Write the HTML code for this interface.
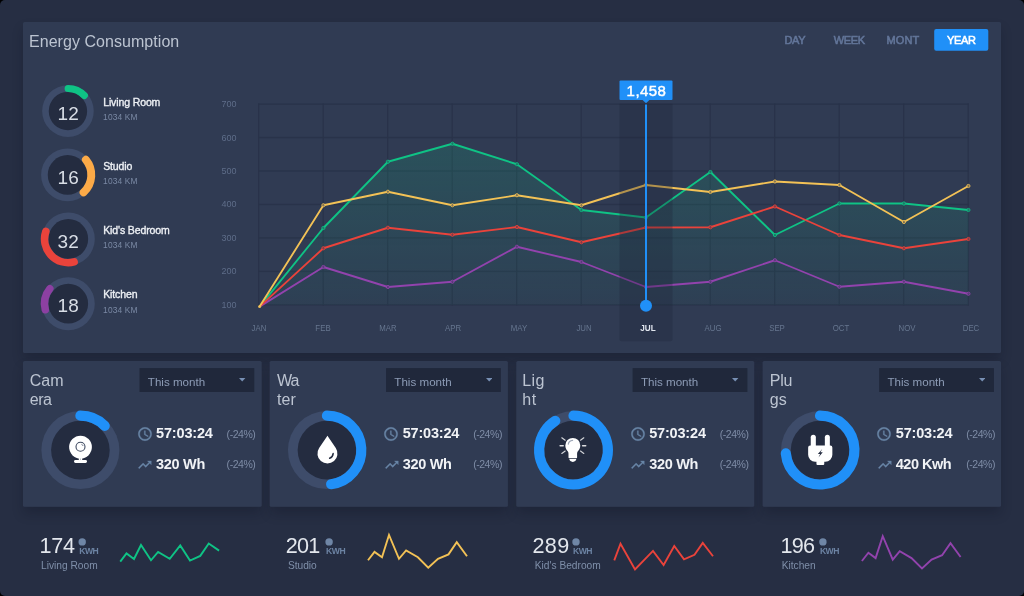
<!DOCTYPE html><html><head><meta charset="utf-8"><title>Energy Consumption</title><style>

html,body{margin:0;padding:0;background:#000;}
body{width:1024px;height:596px;overflow:hidden;font-family:"Liberation Sans", sans-serif;}
#root{position:relative;width:1024px;height:596px;background:#262e43;border-radius:5px;overflow:hidden;}
.abs{position:absolute;}
.t{white-space:nowrap;line-height:1.2;}
#txt{position:absolute;left:0;top:0;width:1024px;height:596px;will-change:transform;}
.shadow{box-shadow:0 7px 12px -1px rgba(10,14,28,0.27);}
.sel{background:#20283b;}

</style></head><body><div id="root">
<div class="abs shadow" style="left:23px;top:22px;width:978px;height:331px;border-radius:2px"></div>
<div class="abs shadow" style="left:23px;top:361.1px;width:238.65px;height:145.6px;border-radius:2px"></div>
<div class="abs shadow" style="left:269.65px;top:361.1px;width:238.25px;height:145.6px;border-radius:2px"></div>
<div class="abs shadow" style="left:516.3px;top:361.1px;width:237.95px;height:145.6px;border-radius:2px"></div>
<div class="abs shadow" style="left:762.6px;top:361.1px;width:238.4px;height:145.6px;border-radius:2px"></div>
<svg class="abs" style="left:0;top:0" width="1024" height="596" viewBox="0 0 1024 596"><rect x="23" y="22" width="978" height="331" rx="1.5" fill="#303b53"/><rect x="23" y="361.1" width="238.65" height="145.6" rx="1.5" fill="#303b53"/><rect x="269.65" y="361.1" width="238.25" height="145.6" rx="1.5" fill="#303b53"/><rect x="516.3" y="361.1" width="237.95" height="145.6" rx="1.5" fill="#303b53"/><rect x="762.6" y="361.1" width="238.4" height="145.6" rx="1.5" fill="#303b53"/><rect x="139.5" y="368.1" width="114.8" height="23.9" fill="#20283b"/><rect x="386.05" y="368.1" width="114.8" height="23.9" fill="#20283b"/><rect x="632.6" y="368.1" width="114.8" height="23.9" fill="#20283b"/><rect x="879.15" y="368.1" width="114.8" height="23.9" fill="#20283b"/><rect x="934.2" y="28.9" width="54.1" height="21.9" rx="2" fill="#2090f8"/></svg>
<div id="txt">
<svg class="abs" style="left:0;top:0" width="1024" height="596" viewBox="0 0 1024 596"><defs><linearGradient id="gf" x1="0" y1="0" x2="0" y2="1"><stop offset="0" stop-color="#0fc385" stop-opacity="0.165"/><stop offset="1" stop-color="#0fc385" stop-opacity="0.035"/></linearGradient></defs><rect x="258.1" y="103.45" width="710.8" height="1.3" fill="#29334a"/><rect x="258.1" y="136.91" width="710.8" height="1.3" fill="#29334a"/><rect x="258.1" y="170.37" width="710.8" height="1.3" fill="#29334a"/><rect x="258.1" y="203.83" width="710.8" height="1.3" fill="#29334a"/><rect x="258.1" y="237.29" width="710.8" height="1.3" fill="#29334a"/><rect x="258.1" y="270.75" width="710.8" height="1.3" fill="#29334a"/><rect x="258.1" y="304.21" width="710.8" height="1.3" fill="#29334a"/><rect x="258.05" y="103.5" width="1.3" height="202" fill="#29334a"/><rect x="322.55" y="103.5" width="1.3" height="202" fill="#29334a"/><rect x="387.05" y="103.5" width="1.3" height="202" fill="#29334a"/><rect x="451.55" y="103.5" width="1.3" height="202" fill="#29334a"/><rect x="516.05" y="103.5" width="1.3" height="202" fill="#29334a"/><rect x="580.55" y="103.5" width="1.3" height="202" fill="#29334a"/><rect x="645.05" y="103.5" width="1.3" height="202" fill="#29334a"/><rect x="709.55" y="103.5" width="1.3" height="202" fill="#29334a"/><rect x="774.05" y="103.5" width="1.3" height="202" fill="#29334a"/><rect x="838.55" y="103.5" width="1.3" height="202" fill="#29334a"/><rect x="903.05" y="103.5" width="1.3" height="202" fill="#29334a"/><rect x="967.55" y="103.5" width="1.3" height="202" fill="#29334a"/><polygon points="259.60,306.60 323.40,228.00 387.90,161.75 452.40,143.75 516.90,164.25 581.40,210.00 645.90,217.50 710.40,172.00 774.90,235.00 839.40,203.50 903.90,203.50 968.40,210.00 968.40,305 259.60,305" fill="url(#gf)"/><polyline points="259.60,306.60 323.40,267.00 387.90,287.00 452.40,281.75 516.90,246.75 581.40,262.00 645.90,287.00 710.40,281.75 774.90,260.25 839.40,286.75 903.90,281.75 968.40,293.75" fill="none" stroke="#9243ad" stroke-width="1.85" stroke-linejoin="round" stroke-linecap="round"/><circle cx="323.40" cy="267.00" r="1.6" fill="#303b53" fill-opacity="0.55" stroke="#9243ad" stroke-width="0.9"/><circle cx="387.90" cy="287.00" r="1.6" fill="#303b53" fill-opacity="0.55" stroke="#9243ad" stroke-width="0.9"/><circle cx="452.40" cy="281.75" r="1.6" fill="#303b53" fill-opacity="0.55" stroke="#9243ad" stroke-width="0.9"/><circle cx="516.90" cy="246.75" r="1.6" fill="#303b53" fill-opacity="0.55" stroke="#9243ad" stroke-width="0.9"/><circle cx="581.40" cy="262.00" r="1.6" fill="#303b53" fill-opacity="0.55" stroke="#9243ad" stroke-width="0.9"/><circle cx="645.90" cy="287.00" r="1.6" fill="#303b53" fill-opacity="0.55" stroke="#9243ad" stroke-width="0.9"/><circle cx="710.40" cy="281.75" r="1.6" fill="#303b53" fill-opacity="0.55" stroke="#9243ad" stroke-width="0.9"/><circle cx="774.90" cy="260.25" r="1.6" fill="#303b53" fill-opacity="0.55" stroke="#9243ad" stroke-width="0.9"/><circle cx="839.40" cy="286.75" r="1.6" fill="#303b53" fill-opacity="0.55" stroke="#9243ad" stroke-width="0.9"/><circle cx="903.90" cy="281.75" r="1.6" fill="#303b53" fill-opacity="0.55" stroke="#9243ad" stroke-width="0.9"/><circle cx="968.40" cy="293.75" r="1.6" fill="#303b53" fill-opacity="0.55" stroke="#9243ad" stroke-width="0.9"/><polyline points="259.60,306.60 323.40,228.00 387.90,161.75 452.40,143.75 516.90,164.25 581.40,210.00 645.90,217.50 710.40,172.00 774.90,235.00 839.40,203.50 903.90,203.50 968.40,210.00" fill="none" stroke="#0fc385" stroke-width="1.85" stroke-linejoin="round" stroke-linecap="round"/><circle cx="323.40" cy="228.00" r="1.6" fill="#303b53" fill-opacity="0.55" stroke="#0fc385" stroke-width="0.9"/><circle cx="387.90" cy="161.75" r="1.6" fill="#303b53" fill-opacity="0.55" stroke="#0fc385" stroke-width="0.9"/><circle cx="452.40" cy="143.75" r="1.6" fill="#303b53" fill-opacity="0.55" stroke="#0fc385" stroke-width="0.9"/><circle cx="516.90" cy="164.25" r="1.6" fill="#303b53" fill-opacity="0.55" stroke="#0fc385" stroke-width="0.9"/><circle cx="581.40" cy="210.00" r="1.6" fill="#303b53" fill-opacity="0.55" stroke="#0fc385" stroke-width="0.9"/><circle cx="645.90" cy="217.50" r="1.6" fill="#303b53" fill-opacity="0.55" stroke="#0fc385" stroke-width="0.9"/><circle cx="710.40" cy="172.00" r="1.6" fill="#303b53" fill-opacity="0.55" stroke="#0fc385" stroke-width="0.9"/><circle cx="774.90" cy="235.00" r="1.6" fill="#303b53" fill-opacity="0.55" stroke="#0fc385" stroke-width="0.9"/><circle cx="839.40" cy="203.50" r="1.6" fill="#303b53" fill-opacity="0.55" stroke="#0fc385" stroke-width="0.9"/><circle cx="903.90" cy="203.50" r="1.6" fill="#303b53" fill-opacity="0.55" stroke="#0fc385" stroke-width="0.9"/><circle cx="968.40" cy="210.00" r="1.6" fill="#303b53" fill-opacity="0.55" stroke="#0fc385" stroke-width="0.9"/><polyline points="259.60,306.60 323.40,248.25 387.90,227.75 452.40,234.75 516.90,227.00 581.40,242.25 645.90,227.50 710.40,227.25 774.90,206.50 839.40,235.00 903.90,248.25 968.40,239.00" fill="none" stroke="#ea433b" stroke-width="1.85" stroke-linejoin="round" stroke-linecap="round"/><circle cx="323.40" cy="248.25" r="1.6" fill="#303b53" fill-opacity="0.55" stroke="#ea433b" stroke-width="0.9"/><circle cx="387.90" cy="227.75" r="1.6" fill="#303b53" fill-opacity="0.55" stroke="#ea433b" stroke-width="0.9"/><circle cx="452.40" cy="234.75" r="1.6" fill="#303b53" fill-opacity="0.55" stroke="#ea433b" stroke-width="0.9"/><circle cx="516.90" cy="227.00" r="1.6" fill="#303b53" fill-opacity="0.55" stroke="#ea433b" stroke-width="0.9"/><circle cx="581.40" cy="242.25" r="1.6" fill="#303b53" fill-opacity="0.55" stroke="#ea433b" stroke-width="0.9"/><circle cx="645.90" cy="227.50" r="1.6" fill="#303b53" fill-opacity="0.55" stroke="#ea433b" stroke-width="0.9"/><circle cx="710.40" cy="227.25" r="1.6" fill="#303b53" fill-opacity="0.55" stroke="#ea433b" stroke-width="0.9"/><circle cx="774.90" cy="206.50" r="1.6" fill="#303b53" fill-opacity="0.55" stroke="#ea433b" stroke-width="0.9"/><circle cx="839.40" cy="235.00" r="1.6" fill="#303b53" fill-opacity="0.55" stroke="#ea433b" stroke-width="0.9"/><circle cx="903.90" cy="248.25" r="1.6" fill="#303b53" fill-opacity="0.55" stroke="#ea433b" stroke-width="0.9"/><circle cx="968.40" cy="239.00" r="1.6" fill="#303b53" fill-opacity="0.55" stroke="#ea433b" stroke-width="0.9"/><polyline points="259.60,306.60 323.40,205.25 387.90,191.75 452.40,205.25 516.90,195.25 581.40,205.25 645.90,185.00 710.40,192.00 774.90,181.50 839.40,185.00 903.90,222.00 968.40,186.00" fill="none" stroke="#f3c256" stroke-width="1.85" stroke-linejoin="round" stroke-linecap="round"/><circle cx="323.40" cy="205.25" r="1.6" fill="#303b53" fill-opacity="0.55" stroke="#f3c256" stroke-width="0.9"/><circle cx="387.90" cy="191.75" r="1.6" fill="#303b53" fill-opacity="0.55" stroke="#f3c256" stroke-width="0.9"/><circle cx="452.40" cy="205.25" r="1.6" fill="#303b53" fill-opacity="0.55" stroke="#f3c256" stroke-width="0.9"/><circle cx="516.90" cy="195.25" r="1.6" fill="#303b53" fill-opacity="0.55" stroke="#f3c256" stroke-width="0.9"/><circle cx="581.40" cy="205.25" r="1.6" fill="#303b53" fill-opacity="0.55" stroke="#f3c256" stroke-width="0.9"/><circle cx="645.90" cy="185.00" r="1.6" fill="#303b53" fill-opacity="0.55" stroke="#f3c256" stroke-width="0.9"/><circle cx="710.40" cy="192.00" r="1.6" fill="#303b53" fill-opacity="0.55" stroke="#f3c256" stroke-width="0.9"/><circle cx="774.90" cy="181.50" r="1.6" fill="#303b53" fill-opacity="0.55" stroke="#f3c256" stroke-width="0.9"/><circle cx="839.40" cy="185.00" r="1.6" fill="#303b53" fill-opacity="0.55" stroke="#f3c256" stroke-width="0.9"/><circle cx="903.90" cy="222.00" r="1.6" fill="#303b53" fill-opacity="0.55" stroke="#f3c256" stroke-width="0.9"/><circle cx="968.40" cy="186.00" r="1.6" fill="#303b53" fill-opacity="0.55" stroke="#f3c256" stroke-width="0.9"/><circle cx="259.6" cy="306.6" r="1.5" fill="#f3c256" fill-opacity="0.8"/><path d="M619.5 103.8h53v235.4a2 2 0 0 1 -2 2h-49a2 2 0 0 1 -2 -2z" fill="#1e2337" fill-opacity="0.3"/><rect x="645" y="104.5" width="2" height="201.5" fill="#2090f8"/><circle cx="646" cy="305.8" r="6" fill="#2090f8"/><rect x="619.5" y="80.5" width="53" height="19.5" rx="1" fill="#2090f8"/><path d="M642.6 100L649.4 100L646 103.2Z" fill="#2090f8"/><circle cx="67.95" cy="111.1" r="25.8" fill="#3e4c6a"/><circle cx="67.95" cy="111.1" r="19.2" fill="#242c40"/><path d="M68.15 88.45A22.65 22.65 0 0 1 84.38 95.51" fill="none" stroke="#0fc385" stroke-width="7.1" stroke-linecap="round"/><circle cx="67.55" cy="174.9" r="26.45" fill="#3e4c6a"/><circle cx="67.55" cy="174.9" r="19.8" fill="#242c40"/><path d="M85.88 159.79A23.75 23.75 0 0 1 83.60 192.41" fill="none" stroke="#fcaa47" stroke-width="7.9" stroke-linecap="round"/><circle cx="68.3" cy="238.95" r="26.5" fill="#3e4c6a"/><circle cx="68.3" cy="238.95" r="19.85" fill="#242c40"/><path d="M74.11 261.93A23.7 23.7 0 0 1 45.82 231.43" fill="none" stroke="#ea433b" stroke-width="7.6" stroke-linecap="round"/><circle cx="68.25" cy="303.7" r="26.55" fill="#3e4c6a"/><circle cx="68.25" cy="303.7" r="19.85" fill="#242c40"/><path d="M45.29 309.77A23.75 23.75 0 0 1 49.79 288.75" fill="none" stroke="#8c40a2" stroke-width="7.5" stroke-linecap="round"/></svg>
<div class="abs t " style="left:29.0px;top:31.5px;font-size:16px;color:#bcc4d1;font-weight:400;letter-spacing:0.05px">Energy Consumption</div>
<div class="abs t " style="left:784.4px;top:33.5px;font-size:11px;color:#63769a;font-weight:400;-webkit-text-stroke:0.55px #63769a;letter-spacing:-0.25px">DAY</div>
<div class="abs t " style="left:833.7px;top:33.5px;font-size:11px;color:#63769a;font-weight:400;-webkit-text-stroke:0.55px #63769a;letter-spacing:-0.3px">WEEK</div>
<div class="abs t " style="left:886.5px;top:33.5px;font-size:11px;color:#63769a;font-weight:400;-webkit-text-stroke:0.55px #63769a;letter-spacing:0.1px">MONT</div>
<div class="abs t " style="left:947px;top:33.5px;font-size:11px;color:#ffffff;font-weight:400;-webkit-text-stroke:0.55px #fff;letter-spacing:-0.3px">YEAR</div>
<div class="abs t" style="left:18.200000000000003px;top:102.5px;width:100px;text-align:center;font-size:19px;color:#d9dee6;font-weight:400;">12</div>
<div class="abs t " style="left:103.2px;top:95.8px;font-size:10.5px;color:#eef1f5;font-weight:400;letter-spacing:-0.12px;-webkit-text-stroke:0.35px #eef1f5">Living Room</div>
<div class="abs t " style="left:103.1px;top:112.4px;font-size:8.4px;color:#7a89a4;font-weight:400;letter-spacing:0.15px">1034 KM</div>
<div class="abs t" style="left:18.200000000000003px;top:166.5px;width:100px;text-align:center;font-size:19px;color:#d9dee6;font-weight:400;">16</div>
<div class="abs t " style="left:103.2px;top:159.8px;font-size:10.5px;color:#eef1f5;font-weight:400;letter-spacing:-0.12px;-webkit-text-stroke:0.35px #eef1f5">Studio</div>
<div class="abs t " style="left:103.1px;top:176.4px;font-size:8.4px;color:#7a89a4;font-weight:400;letter-spacing:0.15px">1034 KM</div>
<div class="abs t" style="left:18.200000000000003px;top:230.5px;width:100px;text-align:center;font-size:19px;color:#d9dee6;font-weight:400;">32</div>
<div class="abs t " style="left:103.2px;top:223.8px;font-size:10.5px;color:#eef1f5;font-weight:400;letter-spacing:-0.12px;-webkit-text-stroke:0.35px #eef1f5">Kid's Bedroom</div>
<div class="abs t " style="left:103.1px;top:240.4px;font-size:8.4px;color:#7a89a4;font-weight:400;letter-spacing:0.15px">1034 KM</div>
<div class="abs t" style="left:18.200000000000003px;top:295.0px;width:100px;text-align:center;font-size:19px;color:#d9dee6;font-weight:400;">18</div>
<div class="abs t " style="left:103.2px;top:288.3px;font-size:10.5px;color:#eef1f5;font-weight:400;letter-spacing:-0.12px;-webkit-text-stroke:0.35px #eef1f5">Kitchen</div>
<div class="abs t " style="left:103.1px;top:304.9px;font-size:8.4px;color:#7a89a4;font-weight:400;letter-spacing:0.15px">1034 KM</div>
<div class="abs t" style="left:200px;width:36.5px;text-align:right;top:99.10px;font-size:9px;color:#5e6d89">700</div>
<div class="abs t" style="left:200px;width:36.5px;text-align:right;top:132.56px;font-size:9px;color:#5e6d89">600</div>
<div class="abs t" style="left:200px;width:36.5px;text-align:right;top:166.02px;font-size:9px;color:#5e6d89">500</div>
<div class="abs t" style="left:200px;width:36.5px;text-align:right;top:199.48px;font-size:9px;color:#5e6d89">400</div>
<div class="abs t" style="left:200px;width:36.5px;text-align:right;top:232.94px;font-size:9px;color:#5e6d89">300</div>
<div class="abs t" style="left:200px;width:36.5px;text-align:right;top:266.40px;font-size:9px;color:#5e6d89">200</div>
<div class="abs t" style="left:200px;width:36.5px;text-align:right;top:299.86px;font-size:9px;color:#5e6d89">100</div>
<div class="abs t" style="left:209.10000000000002px;top:323.1px;width:100px;text-align:center;font-size:9px;color:#66768f;font-weight:400;transform:scaleX(0.87)">JAN</div>
<div class="abs t" style="left:272.5px;top:323.1px;width:100px;text-align:center;font-size:9px;color:#66768f;font-weight:400;transform:scaleX(0.87)">FEB</div>
<div class="abs t" style="left:337.75px;top:323.1px;width:100px;text-align:center;font-size:9px;color:#66768f;font-weight:400;transform:scaleX(0.87)">MAR</div>
<div class="abs t" style="left:402.5px;top:323.1px;width:100px;text-align:center;font-size:9px;color:#66768f;font-weight:400;transform:scaleX(0.87)">APR</div>
<div class="abs t" style="left:468.5px;top:323.1px;width:100px;text-align:center;font-size:9px;color:#66768f;font-weight:400;transform:scaleX(0.87)">MAY</div>
<div class="abs t" style="left:534.1px;top:323.1px;width:100px;text-align:center;font-size:9px;color:#66768f;font-weight:400;transform:scaleX(0.87)">JUN</div>
<div class="abs t" style="left:597.9px;top:323.1px;width:100px;text-align:center;font-size:9px;color:#e2e7ef;font-weight:700;transform:scaleX(0.9)">JUL</div>
<div class="abs t" style="left:662.9px;top:323.1px;width:100px;text-align:center;font-size:9px;color:#66768f;font-weight:400;transform:scaleX(0.87)">AUG</div>
<div class="abs t" style="left:727.25px;top:323.1px;width:100px;text-align:center;font-size:9px;color:#66768f;font-weight:400;transform:scaleX(0.87)">SEP</div>
<div class="abs t" style="left:791.1px;top:323.1px;width:100px;text-align:center;font-size:9px;color:#66768f;font-weight:400;transform:scaleX(0.87)">OCT</div>
<div class="abs t" style="left:856.5px;top:323.1px;width:100px;text-align:center;font-size:9px;color:#66768f;font-weight:400;transform:scaleX(0.87)">NOV</div>
<div class="abs t" style="left:921.1px;top:323.1px;width:100px;text-align:center;font-size:9px;color:#66768f;font-weight:400;transform:scaleX(0.87)">DEC</div>
<div class="abs t" style="left:596.5px;top:81.6px;width:100px;text-align:center;font-size:15px;color:#ffffff;font-weight:400;letter-spacing:0.45px;-webkit-text-stroke:0.45px #fff">1,458</div>
<svg class="abs" style="left:0;top:0" width="1024" height="596" viewBox="0 0 1024 596"><circle cx="80.4" cy="450.1" r="39" fill="#3e4c6a"/><circle cx="80.4" cy="450.1" r="29.3" fill="#242c40"/><path d="M80.40 415.70A34.4 34.4 0 0 1 104.72 425.78" fill="none" stroke="#2090f8" stroke-width="10.2" stroke-linecap="round"/><circle cx="80.5" cy="447.1" r="11.4" fill="#fff"/><circle cx="80.5" cy="446.8" r="4.5" fill="none" stroke="#3f4a61" stroke-width="1.1"/><path d="M81.4 444.3a2.2 2.2 0 0 1 1.7 1.7" fill="none" stroke="#5d677c" stroke-width="0.8"/><rect x="78.8" y="458" width="3.4" height="2.6" fill="#fff"/><rect x="80.25" y="458.5" width="0.5" height="1.7" fill="#7c8598"/><rect x="74.0" y="460.1" width="13" height="2.9" rx="1.45" fill="#fff"/><circle cx="326.95" cy="450.1" r="39" fill="#3e4c6a"/><circle cx="326.95" cy="450.1" r="29.3" fill="#242c40"/><path d="M326.95 415.70A34.4 34.4 0 0 1 331.14 484.24" fill="none" stroke="#2090f8" stroke-width="10.2" stroke-linecap="round"/><path d="M326.95 436.4Q327.45 435.3 327.95 436.4L335.77 448.04A10.0 10.0 0 1 1 319.13 448.04Z" fill="#fff"/><path d="M333.15 453.6C332.95 455.9 331.55 457.5 329.65 458.2" fill="none" stroke="#242c40" stroke-width="1.5" stroke-linecap="round"/><circle cx="573.5" cy="450.1" r="39" fill="#3e4c6a"/><circle cx="573.5" cy="450.1" r="29.3" fill="#242c40"/><path d="M573.50 415.70A34.4 34.4 0 1 1 555.27 420.93" fill="none" stroke="#2090f8" stroke-width="10.2" stroke-linecap="round"/><path d="M572.8 437.9a7.5 7.5 0 0 1 7.5 7.5c0 3 -1.6 4.6 -2.6 6.2c-0.7 1.1 -0.6 2.2 -0.6 3.4v2.4a0.8 0.8 0 0 1 -0.8 0.8h-7a0.8 0.8 0 0 1 -0.8 -0.8v-2.4c0 -1.2 0.1 -2.3 -0.6 -3.4c-1 -1.6 -2.6 -3.2 -2.6 -6.2a7.5 7.5 0 0 1 7.5 -7.5z" fill="#fff"/><path d="M569.3 459.1h7c0 1.6 -1.6 2.8 -3.5 2.8s-3.5 -1.2 -3.5 -2.8z" fill="#fff"/><path d="M568.3 444.1c0.3 -2 1.9 -3.5 4.3 -3.7" fill="none" stroke="#9ea7b8" stroke-width="1.2" stroke-linecap="round"/><path d="M560.0999999999999 445.8h3.1" stroke="#fff" stroke-linecap="round" stroke-width="1.5" stroke-opacity="0.85"/><path d="M582.5999999999999 445.8h3.1" stroke="#fff" stroke-linecap="round" stroke-width="1.5" stroke-opacity="0.85"/><path d="M561.8 437.8l3.4 2.4" stroke="#fff" stroke-linecap="round" stroke-width="1.2" stroke-opacity="0.8"/><path d="M561.8 453.4l3.4 -2.3" stroke="#fff" stroke-linecap="round" stroke-width="1.2" stroke-opacity="0.8"/><path d="M583.8 437.8l-3.3 2.4" stroke="#fff" stroke-linecap="round" stroke-width="1.2" stroke-opacity="0.8"/><path d="M583.8 453.4l-3.3 -2.3" stroke="#fff" stroke-linecap="round" stroke-width="1.2" stroke-opacity="0.8"/><circle cx="820.05" cy="450.1" r="39" fill="#3e4c6a"/><circle cx="820.05" cy="450.1" r="29.3" fill="#242c40"/><path d="M820.05 415.70A34.4 34.4 0 1 1 785.81 453.40" fill="none" stroke="#2090f8" stroke-width="10.2" stroke-linecap="round"/><rect x="810.75" y="434.7" width="5.1" height="13" rx="2.55" fill="#fff"/><rect x="824.85" y="434.7" width="5.0" height="13" rx="2.5" fill="#fff"/><path d="M808.15 447.6a2 2 0 0 1 2 -2h20.2a2 2 0 0 1 2 2v7.2a7 7 0 0 1 -7 7h-10.2a7 7 0 0 1 -7 -7z" fill="#fff"/><path d="M816.45 461h7.8v2.9a1 1 0 0 1 -1 1h-5.8a1 1 0 0 1 -1 -1z" fill="#fff"/><path d="M822.25 449.1L817.85 454.0L820.15 454.0L818.45 457.5L822.75 452.2L820.45 452.2Z" fill="#242c40"/><polyline points="120.25,561.6 126.5,553.4 134,559 141,545 151,560.25 158.1,551.9 169.75,558.75 180.25,545.5 190,560.6 200.25,555.9 208.75,543.5 219.1,550.6" fill="none" stroke="#0fc385" stroke-width="1.9" stroke-linejoin="miter" stroke-linecap="butt"/><polyline points="368,560.25 374.5,551.9 382,557.25 389,535 399,558.75 406.1,550.4 417.9,557.25 428.25,567.75 438,558.75 448.5,554.4 456.75,542.25 467,556.25" fill="none" stroke="#f3c256" stroke-width="1.9" stroke-linejoin="miter" stroke-linecap="butt"/><polyline points="614.25,560.4 620.5,543.75 635,569.4 653,550.9 663.6,565 674.25,546 684,559.4 694.5,554.75 702.75,542.9 713,556.25" fill="none" stroke="#ea433b" stroke-width="1.9" stroke-linejoin="miter" stroke-linecap="butt"/><polyline points="861.9,561 868.4,552.75 875.6,558.1 882.75,536.25 892.75,559.6 899.75,551.25 911.5,558.1 922,568.5 931.6,559.6 942.1,555.25 950.5,543.25 960.6,557" fill="none" stroke="#9243ad" stroke-width="1.9" stroke-linejoin="miter" stroke-linecap="butt"/><circle cx="82.20" cy="541.9" r="3.7" fill="#6f86a6"/><circle cx="329.10" cy="541.9" r="3.7" fill="#6f86a6"/><circle cx="576.00" cy="541.9" r="3.7" fill="#6f86a6"/><circle cx="822.90" cy="541.9" r="3.7" fill="#6f86a6"/></svg>
<div class="abs t " style="left:29.8px;top:371.3px;font-size:16px;color:#bcc4d1;font-weight:400;letter-spacing:0px">Cam</div>
<div class="abs t " style="left:29.8px;top:390.3px;font-size:16px;color:#bcc4d1;font-weight:400;letter-spacing:-0.55px">era</div>
<div class="abs t " style="left:147.8px;top:375.0px;font-size:11.6px;color:#8d9cb6;font-weight:400;">This month</div>
<svg class="abs" style="left:239.3px;top:378.2px" width="6.4" height="3.4" viewBox="0 0 6.4 3.4"><path d="M0 0h6.4L3.2 3.4z" fill="#7890b4"/></svg>
<svg class="abs" style="left:136.5px;top:426.1px" width="16" height="16" viewBox="0 0 24 24"><path fill="#6885a6" stroke="#6885a6" stroke-width="0.55" d="M11.99 2C6.47 2 2 6.48 2 12s4.47 10 9.99 10C17.52 22 22 17.52 22 12S17.52 2 11.99 2zM12 20c-4.42 0-8-3.58-8-8s3.58-8 8-8 8 3.58 8 8-3.58 8-8 8zm.5-13H11v6l5.25 3.15.75-1.23-4.5-2.67z"/></svg>
<svg class="abs" style="left:137.1px;top:456.9px" width="15.6" height="15.6" viewBox="0 0 24 24"><path fill="#6885a6" stroke="#6885a6" stroke-width="0.45" stroke-linejoin="round" d="M16 6l2.29 2.29-4.88 4.88-4-4L2 16.59 3.41 18l6-6 4 4 6.3-6.29L22 12V6z"/></svg>
<div class="abs t " style="left:156.1px;top:425.2px;font-size:14.5px;color:#f1f3f6;font-weight:700;letter-spacing:-0.18px">57:03:24</div>
<div class="abs t " style="left:156.1px;top:455.6px;font-size:14.5px;color:#f1f3f6;font-weight:700;letter-spacing:-0.3px">320 Wh</div>
<div class="abs t " style="left:226.6px;top:428.2px;font-size:10.5px;color:#7e8ca6;font-weight:400;letter-spacing:-0.45px">(-24%)</div>
<div class="abs t " style="left:226.6px;top:458.2px;font-size:10.5px;color:#7e8ca6;font-weight:400;letter-spacing:-0.45px">(-24%)</div>
<div class="abs t " style="left:276.95px;top:371.3px;font-size:16px;color:#bcc4d1;font-weight:400;letter-spacing:-1.0px">Wa</div>
<div class="abs t " style="left:277.05px;top:390.3px;font-size:16px;color:#bcc4d1;font-weight:400;letter-spacing:0.1px">ter</div>
<div class="abs t " style="left:394.35px;top:375.0px;font-size:11.6px;color:#8d9cb6;font-weight:400;">This month</div>
<svg class="abs" style="left:485.85px;top:378.2px" width="6.4" height="3.4" viewBox="0 0 6.4 3.4"><path d="M0 0h6.4L3.2 3.4z" fill="#7890b4"/></svg>
<svg class="abs" style="left:383.05px;top:426.1px" width="16" height="16" viewBox="0 0 24 24"><path fill="#6885a6" stroke="#6885a6" stroke-width="0.55" d="M11.99 2C6.47 2 2 6.48 2 12s4.47 10 9.99 10C17.52 22 22 17.52 22 12S17.52 2 11.99 2zM12 20c-4.42 0-8-3.58-8-8s3.58-8 8-8 8 3.58 8 8-3.58 8-8 8zm.5-13H11v6l5.25 3.15.75-1.23-4.5-2.67z"/></svg>
<svg class="abs" style="left:383.65px;top:456.9px" width="15.6" height="15.6" viewBox="0 0 24 24"><path fill="#6885a6" stroke="#6885a6" stroke-width="0.45" stroke-linejoin="round" d="M16 6l2.29 2.29-4.88 4.88-4-4L2 16.59 3.41 18l6-6 4 4 6.3-6.29L22 12V6z"/></svg>
<div class="abs t " style="left:402.65px;top:425.2px;font-size:14.5px;color:#f1f3f6;font-weight:700;letter-spacing:-0.18px">57:03:24</div>
<div class="abs t " style="left:402.65px;top:455.6px;font-size:14.5px;color:#f1f3f6;font-weight:700;letter-spacing:-0.3px">320 Wh</div>
<div class="abs t " style="left:473.15px;top:428.2px;font-size:10.5px;color:#7e8ca6;font-weight:400;letter-spacing:-0.45px">(-24%)</div>
<div class="abs t " style="left:473.15px;top:458.2px;font-size:10.5px;color:#7e8ca6;font-weight:400;letter-spacing:-0.45px">(-24%)</div>
<div class="abs t " style="left:522.3px;top:371.3px;font-size:16px;color:#bcc4d1;font-weight:400;letter-spacing:0.4px">Lig</div>
<div class="abs t " style="left:522.3px;top:390.3px;font-size:16px;color:#bcc4d1;font-weight:400;letter-spacing:0.6px">ht</div>
<div class="abs t " style="left:640.9px;top:375.0px;font-size:11.6px;color:#8d9cb6;font-weight:400;">This month</div>
<svg class="abs" style="left:732.4000000000001px;top:378.2px" width="6.4" height="3.4" viewBox="0 0 6.4 3.4"><path d="M0 0h6.4L3.2 3.4z" fill="#7890b4"/></svg>
<svg class="abs" style="left:629.6px;top:426.1px" width="16" height="16" viewBox="0 0 24 24"><path fill="#6885a6" stroke="#6885a6" stroke-width="0.55" d="M11.99 2C6.47 2 2 6.48 2 12s4.47 10 9.99 10C17.52 22 22 17.52 22 12S17.52 2 11.99 2zM12 20c-4.42 0-8-3.58-8-8s3.58-8 8-8 8 3.58 8 8-3.58 8-8 8zm.5-13H11v6l5.25 3.15.75-1.23-4.5-2.67z"/></svg>
<svg class="abs" style="left:630.2px;top:456.9px" width="15.6" height="15.6" viewBox="0 0 24 24"><path fill="#6885a6" stroke="#6885a6" stroke-width="0.45" stroke-linejoin="round" d="M16 6l2.29 2.29-4.88 4.88-4-4L2 16.59 3.41 18l6-6 4 4 6.3-6.29L22 12V6z"/></svg>
<div class="abs t " style="left:649.2px;top:425.2px;font-size:14.5px;color:#f1f3f6;font-weight:700;letter-spacing:-0.18px">57:03:24</div>
<div class="abs t " style="left:649.2px;top:455.6px;font-size:14.5px;color:#f1f3f6;font-weight:700;letter-spacing:-0.3px">320 Wh</div>
<div class="abs t " style="left:719.7px;top:428.2px;font-size:10.5px;color:#7e8ca6;font-weight:400;letter-spacing:-0.45px">(-24%)</div>
<div class="abs t " style="left:719.7px;top:458.2px;font-size:10.5px;color:#7e8ca6;font-weight:400;letter-spacing:-0.45px">(-24%)</div>
<div class="abs t " style="left:769.85px;top:371.3px;font-size:16px;color:#bcc4d1;font-weight:400;letter-spacing:-0.3px">Plu</div>
<div class="abs t " style="left:769.65px;top:390.3px;font-size:16px;color:#bcc4d1;font-weight:400;letter-spacing:0.3px">gs</div>
<div class="abs t " style="left:887.45px;top:375.0px;font-size:11.6px;color:#8d9cb6;font-weight:400;">This month</div>
<svg class="abs" style="left:978.95px;top:378.2px" width="6.4" height="3.4" viewBox="0 0 6.4 3.4"><path d="M0 0h6.4L3.2 3.4z" fill="#7890b4"/></svg>
<svg class="abs" style="left:876.15px;top:426.1px" width="16" height="16" viewBox="0 0 24 24"><path fill="#6885a6" stroke="#6885a6" stroke-width="0.55" d="M11.99 2C6.47 2 2 6.48 2 12s4.47 10 9.99 10C17.52 22 22 17.52 22 12S17.52 2 11.99 2zM12 20c-4.42 0-8-3.58-8-8s3.58-8 8-8 8 3.58 8 8-3.58 8-8 8zm.5-13H11v6l5.25 3.15.75-1.23-4.5-2.67z"/></svg>
<svg class="abs" style="left:876.75px;top:456.9px" width="15.6" height="15.6" viewBox="0 0 24 24"><path fill="#6885a6" stroke="#6885a6" stroke-width="0.45" stroke-linejoin="round" d="M16 6l2.29 2.29-4.88 4.88-4-4L2 16.59 3.41 18l6-6 4 4 6.3-6.29L22 12V6z"/></svg>
<div class="abs t " style="left:895.75px;top:425.2px;font-size:14.5px;color:#f1f3f6;font-weight:700;letter-spacing:-0.18px">57:03:24</div>
<div class="abs t " style="left:895.75px;top:455.6px;font-size:14.5px;color:#f1f3f6;font-weight:700;letter-spacing:-0.5px">420 Kwh</div>
<div class="abs t " style="left:966.25px;top:428.2px;font-size:10.5px;color:#7e8ca6;font-weight:400;letter-spacing:-0.45px">(-24%)</div>
<div class="abs t " style="left:966.25px;top:458.2px;font-size:10.5px;color:#7e8ca6;font-weight:400;letter-spacing:-0.45px">(-24%)</div>
<div class="abs t " style="left:39.6px;top:532.9px;font-size:21.6px;color:#e3e7ed;font-weight:400;letter-spacing:-0.25px">174</div>
<div class="abs t " style="left:79.2px;top:546.2px;font-size:8.6px;color:#6c83a3;font-weight:700;letter-spacing:-0.5px">KWH</div>
<div class="abs t " style="left:41.0px;top:560.0px;font-size:10.2px;color:#7f8fa9;font-weight:400;">Living Room</div>
<div class="abs t " style="left:285.8px;top:532.9px;font-size:21.6px;color:#e3e7ed;font-weight:400;letter-spacing:-0.8px">201</div>
<div class="abs t " style="left:326.09999999999997px;top:546.2px;font-size:8.6px;color:#6c83a3;font-weight:700;letter-spacing:-0.5px">KWH</div>
<div class="abs t " style="left:287.9px;top:560.0px;font-size:10.2px;color:#7f8fa9;font-weight:400;">Studio</div>
<div class="abs t " style="left:532.45px;top:532.9px;font-size:21.6px;color:#e3e7ed;font-weight:400;letter-spacing:0.35px">289</div>
<div class="abs t " style="left:573.0px;top:546.2px;font-size:8.6px;color:#6c83a3;font-weight:700;letter-spacing:-0.5px">KWH</div>
<div class="abs t " style="left:534.8000000000001px;top:560.0px;font-size:10.2px;color:#7f8fa9;font-weight:400;">Kid's Bedroom</div>
<div class="abs t " style="left:780.6px;top:532.9px;font-size:21.6px;color:#e3e7ed;font-weight:400;letter-spacing:-0.8px">196</div>
<div class="abs t " style="left:819.9px;top:546.2px;font-size:8.6px;color:#6c83a3;font-weight:700;letter-spacing:-0.5px">KWH</div>
<div class="abs t " style="left:781.7px;top:560.0px;font-size:10.2px;color:#7f8fa9;font-weight:400;">Kitchen</div>
</div></div></body></html>
